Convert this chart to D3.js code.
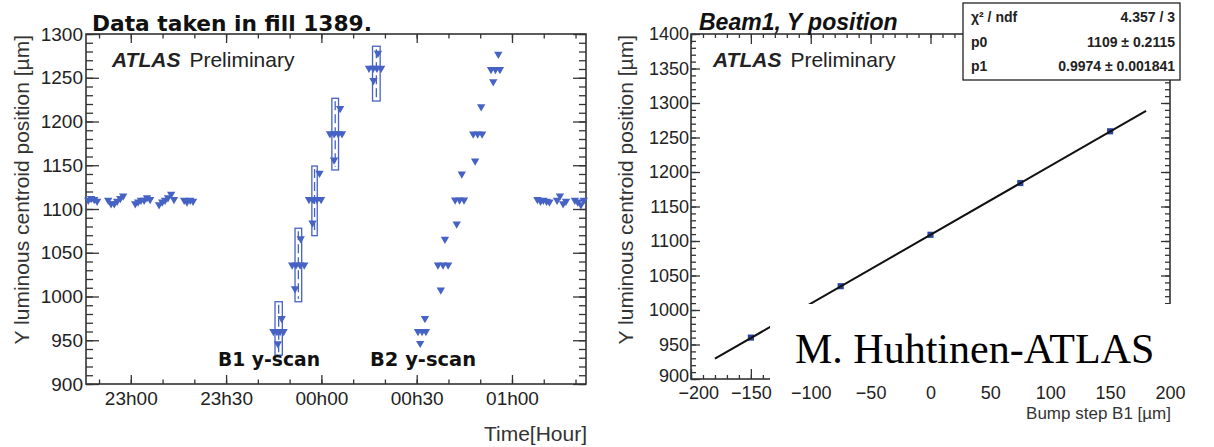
<!DOCTYPE html>
<html>
<head>
<meta charset="utf-8">
<script src="https://cdn.jsdelivr.net/npm/d3@7"></script>
<style>
  body { margin: 0; background: #fff; }
  text { font-family: "Liberation Sans", Arial, sans-serif; }
</style>
</head>
<body>
<div class="chart"></div>
<script>
// ---- left plot: fill 1389, time in minutes from midnight ----
var baseTime = [-73.4, -72.5, -71.5, -70.6,
    -67.1, -66.2, -65.2, -64.3, -63.3, -62.4,
    -58.6, -57.7, -56.8, -55.8, -54.9, -53.9,
    -51.1, -50.1, -49.2, -48.3, -47.3, -46.4,
    -43.2, -42.3, -41.3, -40.4,
    68.0, 69.0, 69.9, 70.9, 71.8,
    74.2, 75.1, 76.1, 77.0,
    79.8, 80.7, 81.7, 82.6];
var baseY = [1110, 1112, 1111, 1109,
    1110, 1106, 1106, 1109, 1112, 1115,
    1106, 1108, 1110, 1110, 1113, 1111,
    1105, 1108, 1110, 1113, 1117, 1111,
    1110, 1108, 1110, 1109,
    1111, 1109, 1110, 1109, 1108,
    1110, 1115, 1106, 1109,
    1110, 1108, 1105, 1110];

var b1Time = [-15.1, -14.0, -13.0, -11.9, -12.5, -13.7,
    -9.2, -8.0, -6.7, -5.4, -6.5, -8.3,
    -3.9, -2.6, -1.4, -0.1, -0.6, -2.8,
    2.7, 4.0, 5.3, 6.5, 5.9, 4.0,
    15.0, 16.3, 17.5, 18.8, 17.8, 16.4];
var b1Y = [960, 960, 960, 960, 975, 946,
    1036, 1036, 1036, 1036, 1066, 1009,
    1111, 1111, 1111, 1111, 1141, 1084,
    1186, 1186, 1186, 1186, 1215, 1156,
    1261, 1261, 1261, 1261, 1278, 1247];

// boxes drawn round each B1 step
var boxT0 = [-14.6, -8.3, -3.0, 3.3, 16.1];
var boxT1 = [-12.3, -6.2, -1.3, 5.4, 18.5];
var boxLow = [933, 994, 1069.5, 1144.6, 1223.4];
var boxHigh = [994, 1078, 1149.1, 1226.5, 1286];

var b2Time = [31.1, 30.4, 31.7, 32.9, 32.6,
    37.6, 36.7, 38.3, 39.9, 38.9,
    42.6, 42.1, 43.5, 44.9, 44.2,
    48.4, 47.8, 49.2, 50.6, 50.3,
    54.1, 53.4, 54.8, 56.2, 55.7];
var b2Y = [946.5, 960, 960, 960, 975,
    1007.4, 1036, 1036, 1036, 1065.4,
    1082.9, 1110.3, 1110.3, 1110.3, 1140,
    1154.9, 1185.7, 1185.7, 1185.7, 1216.9,
    1245.5, 1259.6, 1259.6, 1259.6, 1277];

var timeTicks = [-60, -30, 0, 30, 60];
var timeLabels = ["23h00", "23h30", "00h00", "00h30", "01h00"];

// ---- right plot: beam 1 Y position vs bump step ----
var bumpStep = [-150, -75, 0, 75, 150];
var centroidY = [960, 1034.5, 1109, 1184, 1259];
var centroidErr = [2.5, 2.5, 2.5, 2.5, 2.5];
var fitP0 = 1109;
var fitP1 = 0.9974;
var fitRange = [-180, 180];
var statNames = ["\u03c7\u00b2 / ndf", "p0", "p1"];
var statValues = ["4.357 / 3", "1109 \u00b1 0.2115", "0.9974 \u00b1 0.001841"];

var svgWidth = 1214;
var svgHeight = 447;
var blue = "#4562c4";
var frameColor = "#333";

var svg = d3.select(".chart")
    .append("svg")
    .attr("width", svgWidth)
    .attr("height", svgHeight);

svg.append("rect")
    .attr("width", svgWidth)
    .attr("height", svgHeight)
    .attr("fill", "#fff");

// draws ticks (inward) with ROOT-like major/minor marks
function drawTicks(g, axisFn, scale, majors, minors, majorLen, minorLen, fmt, pad, fontSize) {
    g.append("g")
        .call(axisFn(scale).tickValues(minors).tickSizeInner(-minorLen).tickSizeOuter(0).tickFormat(""))
        .call(s => s.select(".domain").remove());
    var maj = g.append("g")
        .call(axisFn(scale).tickValues(majors).tickSizeInner(-majorLen).tickSizeOuter(0)
            .tickPadding(pad).tickFormat(fmt || ""))
        .call(s => s.select(".domain").remove());
    g.selectAll("line").attr("stroke", frameColor).attr("stroke-width", 1.3);
    maj.selectAll("text")
        .attr("fill", "#222")
        .style("font-family", "'Liberation Sans', Arial, sans-serif")
        .style("font-size", fontSize + "px");
    return maj;
}

// ================= left plot =================
var L = {left: 86, right: 586, top: 34, bottom: 384};

var xTime = d3.scaleLinear().domain([-74.1, 83.3]).range([L.left, L.right]);
var yLeft = d3.scaleLinear().domain([900, 1300]).range([L.bottom, L.top]);

var leftG = svg.append("g");
var timeMinors = d3.range(-70, 81, 10);
var yMinorsL = d3.range(900, 1301, 10);
var yMajorsL = d3.range(900, 1301, 50);

drawTicks(leftG.append("g").attr("transform", `translate(0,${L.bottom})`),
    d3.axisBottom, xTime, timeTicks, timeMinors, 9, 4.5,
    (d, i) => timeLabels[timeTicks.indexOf(d)], 8, 19);
drawTicks(leftG.append("g").attr("transform", `translate(0,${L.top})`),
    d3.axisTop, xTime, timeTicks, timeMinors, 9, 4.5, null, 0, 19);
drawTicks(leftG.append("g").attr("transform", `translate(${L.left},0)`),
    d3.axisLeft, yLeft, yMajorsL, yMinorsL, 13, 7, d3.format("d"), 3, 19);
drawTicks(leftG.append("g").attr("transform", `translate(${L.right},0)`),
    d3.axisRight, yLeft, yMajorsL, yMinorsL, 13, 7, null, 0, 19);

leftG.append("rect")
    .attr("x", L.left).attr("y", L.top)
    .attr("width", L.right - L.left).attr("height", L.bottom - L.top)
    .attr("fill", "none").attr("stroke", frameColor).attr("stroke-width", 1.6);

// step boxes
var boxG = leftG.append("g");
boxT0.forEach(function(t0, i) {
    boxG.append("rect")
        .attr("x", xTime(t0))
        .attr("y", yLeft(boxHigh[i]))
        .attr("width", xTime(boxT1[i]) - xTime(t0))
        .attr("height", yLeft(boxLow[i]) - yLeft(boxHigh[i]))
        .attr("fill", "none")
        .attr("stroke", blue)
        .attr("stroke-width", 1.3);
    var xm = (xTime(t0) + xTime(boxT1[i])) / 2;
    boxG.append("line")
        .attr("x1", xm).attr("x2", xm)
        .attr("y1", yLeft(boxHigh[i]) + 3)
        .attr("y2", yLeft(boxLow[i]) - 3)
        .attr("stroke", blue)
        .attr("stroke-width", 1.3)
        .attr("stroke-dasharray", "9,4");
});

var tri = d3.symbol().type(d3.symbolTriangle).size(30);

function drawTriangles(times, ys) {
    leftG.append("g")
        .selectAll("path")
        .data(times)
        .enter()
        .append("path")
        .attr("d", tri)
        .attr("transform", (d, i) => `translate(${xTime(d)},${yLeft(ys[i])}) rotate(180)`)
        .attr("fill", blue);
}
drawTriangles(baseTime, baseY);
drawTriangles(b1Time, b1Y);
drawTriangles(b2Time, b2Y);

svg.append("text")
    .attr("x", 92).attr("y", 31)
    .attr("textLength", 280).attr("lengthAdjust", "spacingAndGlyphs")
    .style("font-family", "'DejaVu Sans', sans-serif")
    .style("font-weight", "bold")
    .style("font-size", "22px")
    .attr("fill", "#111")
    .text("Data taken in fill 1389.");

function atlasLabel(x, y) {
    var t = svg.append("text").attr("x", x).attr("y", y)
        .style("font-size", "21px").attr("fill", "#222");
    t.append("tspan").style("font-weight", "bold").style("font-style", "italic").text("ATLAS");
    t.append("tspan").attr("dx", 9).text("Preliminary");
}
atlasLabel(112, 67);

[["B1 y-scan", 218, 102], ["B2 y-scan", 370, 106]].forEach(function(s) {
    svg.append("text")
        .attr("x", s[1]).attr("y", 366)
        .attr("textLength", s[2]).attr("lengthAdjust", "spacingAndGlyphs")
        .style("font-family", "'DejaVu Sans', sans-serif")
        .style("font-weight", "bold")
        .style("font-size", "19px")
        .attr("fill", "#111")
        .text(s[0]);
});

svg.append("text")
    .attr("transform", `translate(29,${L.top + 1}) rotate(-90)`)
    .attr("text-anchor", "end")
    .style("font-size", "21px")
    .attr("fill", "#333")
    .text("Y luminous centroid position [\u00b5m]");

svg.append("text")
    .attr("x", L.right + 1).attr("y", 441)
    .attr("text-anchor", "end")
    .style("font-size", "21px")
    .attr("fill", "#333")
    .text("Time[Hour]");

// ================= right plot =================
var R = {left: 691, right: 1170, top: 34, bottom: 379};

var xBump = d3.scaleLinear().domain([-200, 200]).range([R.left, R.right]);
var yRight = d3.scaleLinear().domain([900, 1400]).range([R.bottom, R.top]);

var rightG = svg.append("g");
var bumpMajors = d3.range(-200, 201, 50);
var bumpMinors = d3.range(-200, 201, 10);
var yMajorsR = d3.range(900, 1401, 50);
var yMinorsR = d3.range(900, 1401, 10);

var bumpAxis = drawTicks(rightG.append("g").attr("transform", `translate(0,${R.bottom})`),
    d3.axisBottom, xBump, bumpMajors, bumpMinors, 10, 4, d3.format("d"), 7, 18);
drawTicks(rightG.append("g").attr("transform", `translate(0,${R.top})`),
    d3.axisTop, xBump, bumpMajors, bumpMinors, 10, 4, null, 0, 18);
var yAxisR = drawTicks(rightG.append("g").attr("transform", `translate(${R.left},0)`),
    d3.axisLeft, yRight, yMajorsR, yMinorsR, 9, 5, d3.format("d"), 2, 18);
drawTicks(rightG.append("g").attr("transform", `translate(${R.right},0)`),
    d3.axisRight, yRight, yMajorsR, yMinorsR, 9, 5, null, 0, 18);

// the lowest y label sits tight against "-200", as in ROOT output
yAxisR.selectAll("text").filter(d => d === 900).attr("dy", "0.15em");
bumpAxis.selectAll("text").filter(d => d === -200).attr("dx", "0.4em");

rightG.append("rect")
    .attr("x", R.left).attr("y", R.top)
    .attr("width", R.right - R.left).attr("height", R.bottom - R.top)
    .attr("fill", "none").attr("stroke", frameColor).attr("stroke-width", 1.6);

// error bars and markers
rightG.append("g")
    .selectAll("line")
    .data(bumpStep)
    .enter()
    .append("line")
    .attr("x1", d => xBump(d)).attr("x2", d => xBump(d))
    .attr("y1", (d, i) => yRight(centroidY[i] - centroidErr[i]))
    .attr("y2", (d, i) => yRight(centroidY[i] + centroidErr[i]))
    .attr("stroke", "#1f3a96").attr("stroke-width", 1.5);

rightG.append("g")
    .selectAll("path")
    .data(bumpStep)
    .enter()
    .append("path")
    .attr("d", d3.symbol().type(d3.symbolSquare).size(38))
    .attr("transform", (d, i) => `translate(${xBump(d)},${yRight(centroidY[i])})`)
    .attr("fill", "#2a44a0");

var fitLine = d3.line()
    .x(d => xBump(d))
    .y(d => yRight(fitP0 + fitP1 * d));

rightG.append("path")
    .datum(fitRange)
    .attr("d", fitLine)
    .attr("fill", "none")
    .attr("stroke", "#111")
    .attr("stroke-width", 2);

svg.append("text")
    .attr("x", 699).attr("y", 30)
    .style("font-weight", "bold")
    .style("font-style", "italic")
    .style("font-size", "23px")
    .attr("fill", "#111")
    .text("Beam1, Y position");

atlasLabel(713, 67);

svg.append("text")
    .attr("transform", `translate(633,${R.top + 1}) rotate(-90)`)
    .attr("text-anchor", "end")
    .style("font-size", "21px")
    .attr("fill", "#333")
    .text("Y luminous centroid position [\u00b5m]");

svg.append("text")
    .attr("x", R.right + 1).attr("y", 419)
    .attr("text-anchor", "end")
    .style("font-size", "17px")
    .attr("fill", "#333")
    .text("Bump step B1 [\u00b5m]");

// fit statistics box
var stat = svg.append("g");
stat.append("rect")
    .attr("x", 963).attr("y", 3)
    .attr("width", 217).attr("height", 77)
    .attr("fill", "#fff")
    .attr("stroke", "#222")
    .attr("stroke-width", 1.3);
statNames.forEach(function(name, i) {
    stat.append("text")
        .attr("x", 971).attr("y", 22 + i * 24.5)
        .style("font-size", "14px").style("font-weight", "bold")
        .attr("fill", "#222")
        .text(name);
    stat.append("text")
        .attr("x", 1175).attr("y", 22 + i * 24.5)
        .attr("text-anchor", "end")
        .style("font-size", "14px").style("font-weight", "bold")
        .attr("fill", "#222")
        .text(statValues[i]);
});

// author stamp pasted over the plot
svg.append("rect")
    .attr("x", 770).attr("y", 304)
    .attr("width", 444).attr("height", 78)
    .attr("fill", "#fff");

svg.append("text")
    .attr("x", 795).attr("y", 363)
    .style("font-family", "'Liberation Serif', 'Times New Roman', serif")
    .style("font-size", "42px")
    .attr("fill", "#000")
    .text("M. Huhtinen-ATLAS");
</script>
</body>
</html>
